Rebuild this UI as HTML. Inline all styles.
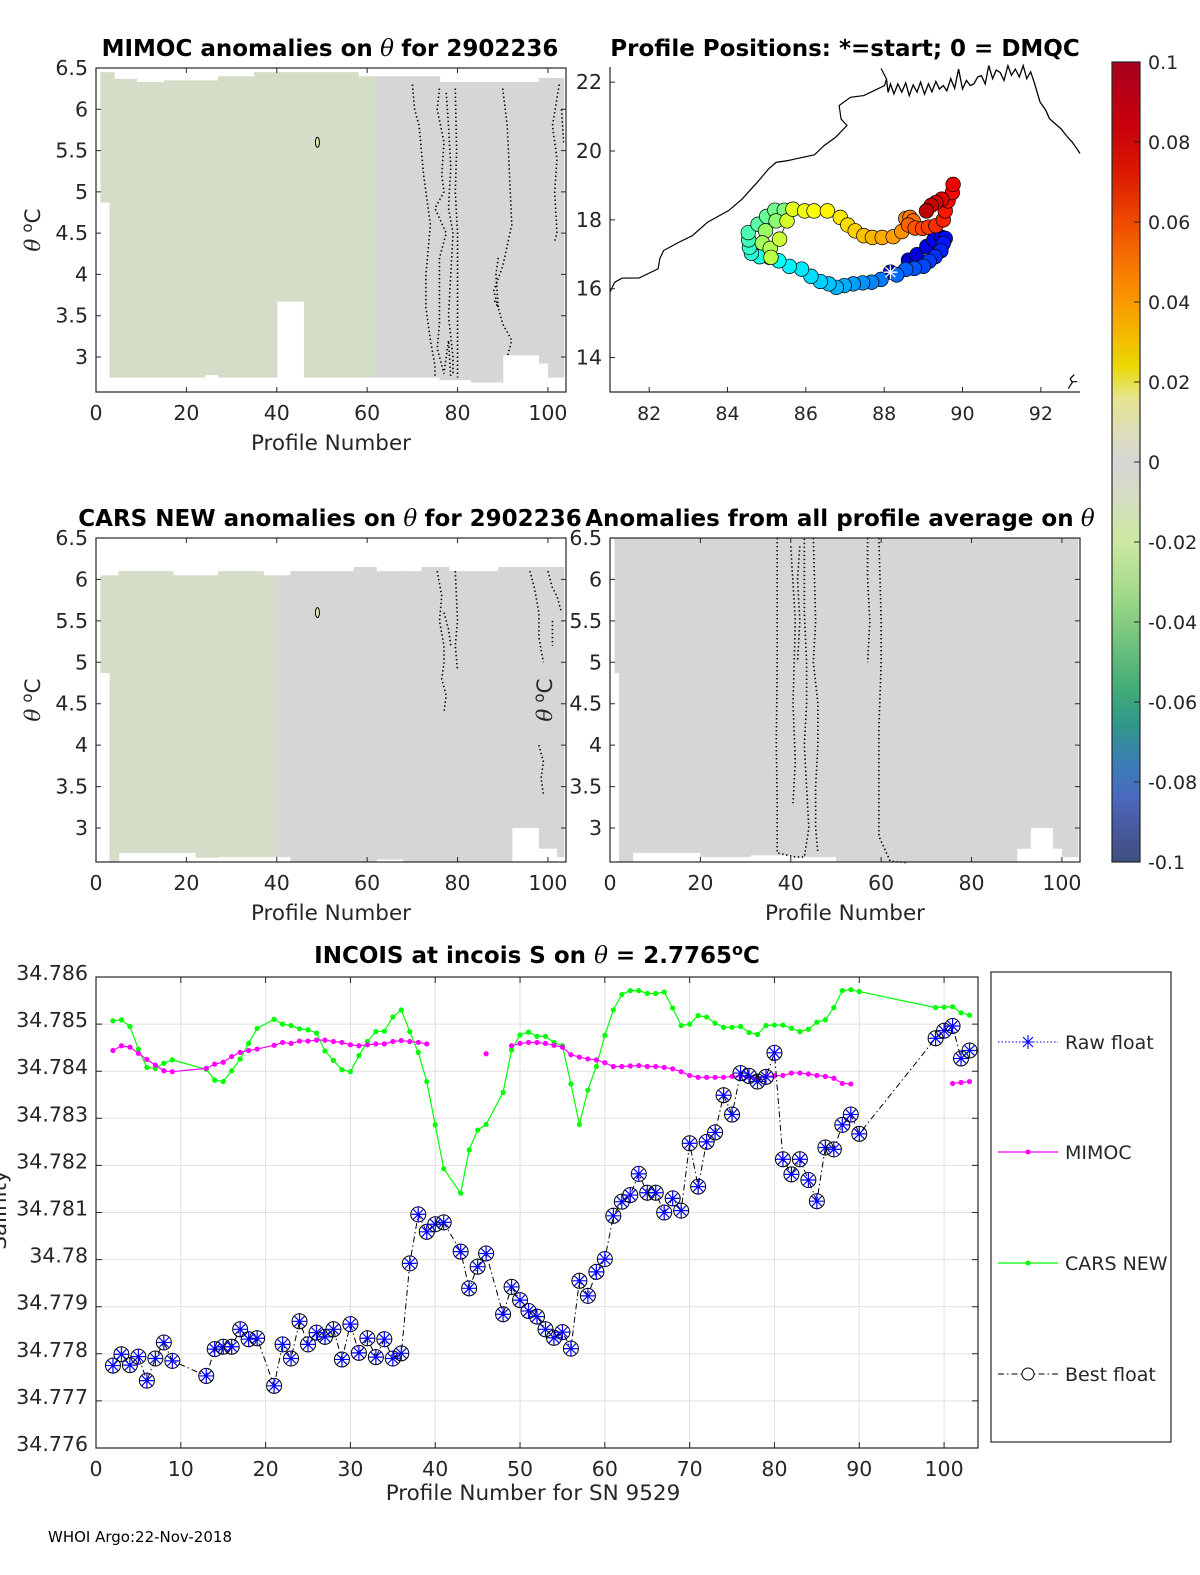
<!DOCTYPE html>
<html><head><meta charset="utf-8"><style>
html,body{margin:0;padding:0;background:#fff;}
svg{display:block;font-family:"DejaVu Sans","Liberation Sans",sans-serif;}
.tk{font-size:19px;fill:#262626;}
.tky{font-size:20.5px;fill:#262626;}
.tt{font-size:23px;font-weight:bold;fill:#000;}
.lb{font-size:21.5px;fill:#262626;}
</style></head><body>
<svg id="fig" xmlns="http://www.w3.org/2000/svg" width="1200" height="1575" viewBox="0 0 1200 1575">
<defs>
<linearGradient id="cbar" x1="0" y1="0" x2="0" y2="1">
<stop offset="0" stop-color="#a8001e"/><stop offset="0.08" stop-color="#c8000c"/><stop offset="0.14" stop-color="#dc1a00"/><stop offset="0.2" stop-color="#ee4a00"/><stop offset="0.28" stop-color="#fb8a00"/><stop offset="0.34" stop-color="#f4b800"/><stop offset="0.38" stop-color="#ead800"/><stop offset="0.42" stop-color="#e6e490"/><stop offset="0.46" stop-color="#dedeb8"/><stop offset="0.5" stop-color="#d6d6d6"/><stop offset="0.54" stop-color="#d4dcc4"/><stop offset="0.6" stop-color="#cce8a0"/><stop offset="0.66" stop-color="#a6dc8c"/><stop offset="0.72" stop-color="#74c47c"/><stop offset="0.78" stop-color="#44ae78"/><stop offset="0.83" stop-color="#30968a"/><stop offset="0.88" stop-color="#3c7cb8"/><stop offset="0.92" stop-color="#4a68be"/><stop offset="0.96" stop-color="#48589e"/><stop offset="1" stop-color="#3e5080"/>
</linearGradient>
</defs>
<g id="g-tl"></g>
<g id="g-map"></g>
<g id="g-ml"></g>
<g id="g-mr"></g>
<g id="g-cb">
<rect x="1112" y="62" width="28" height="800" fill="url(#cbar)" stroke="#262626" stroke-width="1.2"/>
</g>
<g id="g-bt"></g>
<text x="48" y="1542" font-size="15" fill="#000">WHOI Argo:22-Nov-2018</text>
</svg>
<script>
// ===== Bottom chart data =====
const profiles = [2,3,4,5,6,7,8,9,13,14,15,16,17,18,19,21,22,23,24,25,26,27,28,29,30,31,32,33,34,35,36,37,38,39,40,41,43,44,45,46,48,49,50,51,52,53,54,55,56,57,58,59,60,61,62,63,64,65,66,67,68,69,70,71,72,73,74,75,76,77,78,79,80,81,82,83,84,85,86,87,88,89,90,99,100,101,102,103];
const floatS = [34.77775,34.77799,34.77776,34.77794,34.77743,34.77790,34.77824,34.77785,
34.77753,34.77810,34.77815,34.77815,34.77852,34.77831,34.77833,
34.77732,34.77820,34.77790,34.77869,34.77820,34.77845,34.77836,34.77852,34.77788,34.77863,34.77802,34.77833,34.77793,34.77831,34.77790,34.77801,34.77992,34.78096,34.78059,34.78075,34.78079,
34.78017,34.77939,34.77985,34.78013,
34.77884,34.77942,34.77914,34.77891,34.77879,34.77852,34.77834,34.77846,34.77811,34.77955,34.77923,34.77974,34.78001,34.78093,34.78123,34.78137,34.78182,34.78142,34.78142,34.78100,34.78130,34.78104,34.78247,34.78155,34.78250,34.78270,34.78349,34.78308,34.78396,34.78390,34.78378,34.78388,34.78439,34.78213,34.78181,34.78213,34.78169,34.78124,34.78238,34.78234,34.78286,34.78308,34.78267,
34.78470,34.78486,34.78496,34.78427,34.78444];
const carsS = [34.78507,34.78509,34.78495,34.78447,34.78408,34.78406,34.78417,34.78424,
34.78404,34.78381,34.78378,34.78401,34.78426,34.78459,34.78491,
34.78510,34.78500,34.78497,34.78490,34.78488,34.78481,34.78443,34.78423,34.78403,34.78399,34.78433,34.78463,34.78484,34.78485,34.78515,34.78530,34.78484,34.78440,34.78378,34.78286,34.78193,
34.78141,34.78233,34.78275,34.78287,
34.78355,34.78445,34.78477,34.78483,34.78474,34.78474,34.78461,34.78454,34.78373,34.78287,34.78360,34.78410,34.78476,34.78530,34.78563,34.78571,34.78571,34.78565,34.78565,34.78568,34.78534,34.78497,34.78500,34.78518,34.78515,34.78502,34.78493,34.78493,34.78495,34.78482,34.78478,34.78497,34.78498,34.78498,34.78491,34.78484,34.78489,34.78504,34.78509,34.78535,34.78571,34.78573,34.78569,
34.78535,34.78536,34.78537,34.78524,34.78519];
const mimocS = [34.78444,34.78454,34.78451,34.78438,34.78425,34.78413,34.78401,34.78399,
34.78406,34.78415,34.78419,34.78431,34.78440,34.78444,34.78447,
34.78455,34.78461,34.78459,34.78464,34.78464,34.78466,34.78466,34.78463,34.78461,34.78456,34.78454,34.78456,34.78458,34.78458,34.78463,34.78465,34.78463,34.78461,34.78458,null,null,
null,null,null,34.78437,
null,34.78454,34.78459,34.78461,34.78461,34.78459,34.78455,34.78451,34.78435,34.78430,34.78426,34.78424,34.78418,34.78410,34.78410,34.78411,34.78412,34.78410,34.78410,34.78408,34.78405,34.78399,34.78391,34.78387,34.78387,34.78387,34.78387,34.78389,34.78390,34.78387,34.78385,34.78389,34.78390,34.78391,34.78396,34.78396,34.78394,34.78391,34.78389,34.78385,34.78374,34.78373,null,
null,null,34.78374,34.78376,34.78378];
const xTicksB = [0,10,20,30,40,50,60,70,80,90,100];
const yTicksB = ["34.776","34.777","34.778","34.779","34.78","34.781","34.782","34.783","34.784","34.785","34.786"];
const legendLabels = ["Raw float","MIMOC","CARS NEW","Best float"];

// ===== Map data =====
const trackLon = [88.16,88.62,88.84,89.09,89.27,89.47,89.56,89.51,89.45,89.30,89.15,89.00,88.77,88.55,88.32,87.92,87.68,87.45,87.21,86.98,86.78,86.59,86.37,86.13,85.89,85.58,85.31,85.07,84.82,84.61,84.56,84.54,84.53,84.78,85.00,85.21,85.45,85.24,84.97,84.89,85.09,85.11,85.33,85.52,85.67,85.97,86.21,86.55,86.88,87.07,87.26,87.48,87.70,87.95,88.23,88.45,88.55,88.66,88.74,88.62,88.79,88.98,89.13,89.32,89.51,89.56,89.63,89.74,89.76,89.47,89.32,89.20,89.08];
const trackLat = [16.48,16.83,16.99,17.23,17.42,17.49,17.46,17.32,17.10,16.93,16.80,16.65,16.59,16.56,16.40,16.27,16.19,16.17,16.14,16.09,16.04,16.14,16.21,16.36,16.57,16.65,16.81,16.91,16.93,17.03,17.20,17.42,17.63,17.87,18.10,18.28,18.28,17.97,17.68,17.33,17.17,16.91,17.44,17.97,18.31,18.26,18.26,18.26,18.07,17.85,17.68,17.54,17.49,17.49,17.51,17.66,18.04,18.07,17.97,17.85,17.76,17.75,17.79,17.83,18.00,18.26,18.55,18.79,19.03,18.60,18.50,18.42,18.26];
const coastLon = [81.0,81.12,81.31,81.74,82.23,82.27,82.37,82.76,83.10,83.49,84.03,84.37,84.76,85.05,85.24,85.54,85.73,86.22,86.47,86.76,87.05,86.90,86.85,87.14,87.48,88.01,88.06,87.92];
const coastLat = [15.90,16.19,16.31,16.31,16.58,16.87,17.11,17.35,17.54,17.93,18.27,18.60,19.09,19.48,19.67,19.72,19.77,19.89,20.16,20.40,20.74,20.93,21.32,21.56,21.61,21.90,22.09,22.40];
const deltaLon = [88.06,88.10,88.16,88.25,88.35,88.45,88.55,88.64,88.74,88.84,88.93,89.03,89.13,89.22,89.32,89.41,89.51,89.60,89.70,89.80,89.90,90.00,90.10,90.20,90.29,90.39,90.48,90.58,90.67,90.77,90.86,90.96,91.06,91.16,91.25,91.35,91.45,91.55,91.64,91.74,91.83,91.98,92.12,92.22,92.36,92.51,92.65,92.80,92.9,93.0];
const deltaLat = [22.09,21.70,21.95,21.66,21.95,21.71,21.98,21.61,21.92,21.71,22.00,21.65,21.95,21.72,22.02,21.80,21.90,21.75,22.10,21.82,22.38,21.80,22.05,21.90,21.95,22.15,22.19,21.95,22.48,22.10,22.35,22.28,22.05,22.48,22.20,22.38,22.15,22.48,22.10,22.30,22.00,21.42,21.20,20.94,20.80,20.65,20.45,20.26,20.10,19.93];
const mapXTicks = [82,84,86,88,90,92];
const mapYTicks = [14,16,18,20,22];
const cbTicks = ["0.1","0.08","0.06","0.04","0.02","0","-0.02","-0.04","-0.06","-0.08","-0.1"];

const NS = "http://www.w3.org/2000/svg";
function mk(parent, tag, attrs, text){
  const el = document.createElementNS(NS, tag);
  for (const k in attrs) el.setAttribute(k, attrs[k]);
  if (text !== undefined) el.textContent = text;
  parent.appendChild(el);
  return el;
}

// ===== colorbar ticks =====
const gcb = document.getElementById('g-cb');
cbTicks.forEach((t,i)=>{
  const y = 62 + i*80;
  const tl = mk(gcb,'line',{x1:1134,x2:1140,y1:y,y2:y,stroke:'#262626','stroke-width':1});
  
  
  const tx = mk(gcb,'text',{x:1148,y:y+7,class:'tk'},t);
  
  
});

// ===== heatmap panels =====
const G = '#d4ddc8', GR = '#d6d6d6';
function panel(gid, L, R, T, B, lo, blocks, contours, ylabelX, title, titleX, ellipse){
  const g = document.getElementById(gid);
  const sx = p => L + p/104*(R-L);
  const sy = t => T + (6.5-t)/(6.5-lo)*(B-T);
  blocks.forEach(b=>{
    const r = mk(g,'rect',{x:sx(b[0]),y:sy(b[2]),width:sx(b[1])-sx(b[0])+0.6,height:sy(b[3])-sy(b[2]),fill:b[4]});
    
    
  });
  contours.forEach(c=>{
    const pth = mk(g,'polyline',{points:c.map(q=>sx(q[0])+','+sy(q[1])).join(' '),fill:'none',stroke:'#000','stroke-width':1.6,'stroke-dasharray':'1.4 2.6'});
    
    
  });
  if (ellipse){
    const e = mk(g,'ellipse',{cx:sx(49),cy:sy(5.6),rx:2,ry:5,fill:'#dfeab0',stroke:'#000','stroke-width':1});
    
    
  }
  const box = mk(g,'rect',{x:L,y:T,width:R-L,height:B-T,fill:'none',stroke:'#262626','stroke-width':1.2});
  
  
  [0,20,40,60,80,100].forEach(p=>{
    const tk = mk(g,'path',{d:`M${sx(p)},${B}v-5M${sx(p)},${T}v5`,stroke:'#262626','stroke-width':1});
    
    
    const tl = mk(g,'text',{x:sx(p),y:B+28,class:'tky','text-anchor':'middle'},String(p));
    
    
  });
  [3,3.5,4,4.5,5,5.5,6,6.5].forEach(t=>{
    const tk = mk(g,'path',{d:`M${L},${sy(t)}h5M${R},${sy(t)}h-5`,stroke:'#262626','stroke-width':1});
    
    
    const tl = mk(g,'text',{x:L-8,y:sy(t)+7,class:'tky','text-anchor':'end'},String(t));
    
    
  });
  const xl = mk(g,'text',{x:(L+R)/2,y:B+58,class:'lb','text-anchor':'middle'},'Profile Number');
  
  
  const yl = mk(g,'text',{x:ylabelX,y:(T+B)/2,class:'lb','text-anchor':'middle',transform:`rotate(-90 ${ylabelX} ${(T+B)/2})`});
  
  
  mk(yl,'tspan',{'font-family':'"DejaVu Serif","Liberation Serif",serif','font-style':'italic'},'θ');
  mk(yl,'tspan',{dx:6,dy:-8,'font-size':15},'o');
  mk(yl,'tspan',{dy:8},'C');
  const tt = mk(g,'text',{x:titleX,y:T-12,class:'tt','text-anchor':'middle'});
  
  
  title.forEach(part=>{
    if (part==='θ') mk(tt,'tspan',{'font-family':'"DejaVu Serif","Liberation Serif",serif','font-style':'italic','font-weight':'normal'},' θ ');
    else mk(tt,'tspan',{},part);
  });
}

panel('g-tl',96,566,68,392,2.576,[
 [1,3,6.45,4.87,G],[3,4,6.45,2.75,G],[4,9,6.37,2.75,G],[9,15,6.33,2.75,G],[15,24,6.35,2.75,G],[24,27,6.35,2.78,G],[27,35,6.40,2.75,G],[35,40,6.45,2.75,G],[40,46,6.45,3.67,G],[46,58,6.45,2.75,G],[58,62,6.40,2.75,G],[62,76,6.40,2.75,GR],[76,83,6.33,2.72,GR],[83,90,6.33,2.69,GR],[90,98,6.33,3.02,GR],[98,100,6.38,2.92,GR],[100,103.5,6.38,2.75,GR]
],[
 [[70,6.3],[70.5,6.0],[71.5,5.8],[72,5.5],[72.5,5.2],[73.5,4.8],[74,4.6],[73.5,4.3],[73,4.0],[73,3.6],[73.5,3.4],[74,3.2],[75,2.9],[75,2.75]],
 [[79.5,6.25],[79.8,5.5],[79.5,5],[80,4.5],[80,4],[80,3.4],[80,2.75]],
 [[76,6.25],[75.5,6.0],[77,5.6],[76.5,5.2],[77,5],[75,4.8],[77.5,4.5],[76,4.2],[76,4],[76,3.4],[75.5,3.1],[77,2.8],[78,3.2],[78.5,2.75]],
 [[77.5,6.2],[78,5.8],[78.5,5.3],[78,4.8],[79,4.5],[78.5,4.0],[78,3.5],[79,3.0],[79,2.8]],
 [[90,6.25],[91,5.8],[91.5,5.2],[92,4.6],[90,4.1],[88,3.8],[90,3.4],[92,3.2],[91,3.0]],
 [[89,4.2],[88.5,4.0],[89,3.6],[88,3.7]],
 [[102.5,6.3],[101,5.8],[102,5.4],[101.5,5],[102,4.5],[101.5,4.4]],
 [[103,6.0],[103.5,5.6]]
],40,['MIMOC anomalies on','θ',' for 2902236'],330,true);

panel('g-ml',96,566,538,862,2.59,[
 [1,3,6.05,4.87,G],[3,5,6.05,2.59,G],[5,17,6.1,2.7,G],[17,22,6.05,2.7,G],[22,27,6.05,2.64,G],[27,37,6.1,2.65,G],[37,40,6.05,2.65,G],[40,43,6.05,2.65,GR],[43,57,6.1,2.59,GR],[57,62,6.15,2.59,GR],[62,68,6.1,2.62,GR],[68,72,6.1,2.59,GR],[72,78,6.15,2.59,GR],[78,89,6.1,2.59,GR],[89,92,6.15,2.59,GR],[92,98,6.15,3.0,GR],[98,102,6.15,2.75,GR],[102,103.5,6.15,2.65,GR]
],[
 [[75.5,6.1],[76.5,5.8],[76,5.5],[77,5.2],[77,5],[76.5,4.8],[77.5,4.6],[77,4.4]],
 [[77,5.6],[78,5.4],[78.5,5.2]],
 [[79.5,6.1],[80,5.5],[79.5,5.2],[80,4.9]],
 [[96,6.1],[97,5.9],[98,5.6],[98,5.3],[99,5.0]],
 [[98,4.0],[99,3.8],[98.5,3.6],[99,3.4]],
 [[100,6.1],[101,5.9],[102,5.8],[103,5.6]],
 [[101,5.5],[101,5.2]]
],40,['CARS NEW anomalies on','θ','for 2902236'],330,true);

panel('g-mr',610,1080,538,862,2.59,[
 [1,2,6.5,4.87,GR],[2,5,6.5,2.59,GR],[5,20,6.5,2.7,GR],[20,31,6.5,2.65,GR],[31,40,6.5,2.67,GR],[40,50,6.5,2.65,GR],[50,90,6.5,2.59,GR],[90,93,6.5,2.75,GR],[93,98,6.5,3.0,GR],[98,100,6.5,2.75,GR],[100,103.5,6.5,2.65,GR]
],[
 [[37,6.5],[37,5],[36.8,4],[37,3.3],[37,2.7],[41,2.65],[43,2.65],[44,3],[43.5,3.5],[43,4],[43.5,4.5],[43.5,5],[43,5.6],[43,6.5]],
 [[45,6.5],[45.5,5.5],[45,5],[46,4.5],[46,4],[45.5,3.5],[45.5,3],[46,2.7]],
 [[40,6.4],[41,5.5],[40.5,4.5],[41,3.8],[40.5,3.3]],
 [[42,6.4],[41.5,6.0],[42,5.5],[41.5,5.0]],
 [[57,6.5],[57,6.0],[57.5,5.5],[57,5.0]],
 [[59.5,6.5],[60,5.5],[60,5],[59.5,4.2],[59.5,3.5],[59.5,2.9],[62,2.6],[66,2.58]]
],552,['Anomalies from all profile average on','θ'],840,false);

// ===== Map =====
(function(){
  const g = document.getElementById('g-map');
  const L=610,R=1080,T=67,B=392;
  const sx = lon => L + (lon-81)/(93-81)*(R-L);
  const sy = lat => T + (22.44-lat)/(22.44-13.0)*(B-T);
  const coast = mk(g,'polyline',{points:coastLon.map((v,i)=>sx(v)+','+sy(coastLat[i])).join(' '),fill:'none',stroke:'#000','stroke-width':1.2});
  
  
  const delta = mk(g,'polyline',{points:deltaLon.map((v,i)=>sx(v)+','+sy(deltaLat[i])).join(' '),fill:'none',stroke:'#000','stroke-width':1.3});
  
  
  const isl = mk(g,'path',{d:`M${sx(92.7)},${sy(13.1)}l4,-6l-2,-4l4,-4M${sx(92.8)},${sy(13.3)}l5,0`,fill:'none',stroke:'#000','stroke-width':1.2});
  
  
  const tr = mk(g,'polyline',{points:trackLon.map((v,i)=>sx(v)+','+sy(trackLat[i])).join(' '),fill:'none',stroke:'#000','stroke-width':0.8});
  
  
  function jet(f){
    const r=Math.max(0,Math.min(1,1.5-Math.abs(4*f-3)));
    const gg=Math.max(0,Math.min(1,1.5-Math.abs(4*f-2)));
    const b=Math.max(0,Math.min(1,1.5-Math.abs(4*f-1)));
    return `rgb(${Math.round(r*255)},${Math.round(gg*255)},${Math.round(b*255)})`;
  }
  const n = trackLon.length;
  trackLon.forEach((v,i)=>{
    const c = mk(g,'circle',{cx:sx(v),cy:sy(trackLat[i]),r:7.3,fill:jet(0.06+0.88*i/(n-1)),stroke:'#000','stroke-width':0.7});
    
    
  });
  const st = mk(g,'path',{d:`M${sx(trackLon[0])-7},${sy(trackLat[0])}h14M${sx(trackLon[0])},${sy(trackLat[0])-7}v14M${sx(trackLon[0])-5},${sy(trackLat[0])-5}l10,10M${sx(trackLon[0])+5},${sy(trackLat[0])-5}l-10,10`,stroke:'#fff','stroke-width':1.3});
  
  
  const ax = mk(g,'path',{d:`M${L},${T}V${B}H${R}`,fill:'none',stroke:'#262626','stroke-width':1.2});
  
  
  mapXTicks.forEach(t=>{
    const tk = mk(g,'line',{x1:sx(t),x2:sx(t),y1:B,y2:B-5,stroke:'#262626'});
    
    
    const tl = mk(g,'text',{x:sx(t),y:B+28,class:'tk','text-anchor':'middle'},String(t));
    
    
  });
  mapYTicks.forEach(t=>{
    const tk = mk(g,'line',{x1:L,x2:L+5,y1:sy(t),y2:sy(t),stroke:'#262626'});
    
    
    const tl = mk(g,'text',{x:L-8,y:sy(t)+7,class:'tky','text-anchor':'end'},String(t));
    
    
  });
  const tt = mk(g,'text',{x:845,y:56,class:'tt','text-anchor':'middle'},'Profile Positions: *=start; 0 = DMQC');
  
  
})();

// ===== Bottom chart =====
(function(){
  const g = document.getElementById('g-bt');
  const L=96,R=978,T=977,B=1448;
  const sx = p => L + p/104*(R-L);
  const sy = v => T + (34.786 - v)/0.010*(B-T);
  xTicksB.forEach(p=>{
    const gl = mk(g,'line',{x1:sx(p),x2:sx(p),y1:T,y2:B,stroke:'#e0e0e0','stroke-width':1});
    
    
  });
  yTicksB.forEach(t=>{
    const v=parseFloat(t);
    const gl = mk(g,'line',{x1:L,x2:R,y1:sy(v),y2:sy(v),stroke:'#e0e0e0','stroke-width':1});
    
    
  });
  const cars = mk(g,'polyline',{points:profiles.map((p,i)=>sx(p)+','+sy(carsS[i])).join(' '),fill:'none',stroke:'#00ff00','stroke-width':1.2});
  
  
  profiles.forEach((p,i)=>{
    const d = mk(g,'circle',{cx:sx(p),cy:sy(carsS[i]),r:2.6,fill:'#00ff00'});
    
    
  });
  let seg=[];
  const segs=[];
  profiles.forEach((p,i)=>{
    if (mimocS[i]===null){ if(seg.length) segs.push(seg); seg=[]; }
    else seg.push(sx(p)+','+sy(mimocS[i]));
  });
  if (seg.length) segs.push(seg);
  segs.forEach(s=>{
    const m = mk(g,'polyline',{points:s.join(' '),fill:'none',stroke:'#ff00ff','stroke-width':1.2});
    
    
  });
  profiles.forEach((p,i)=>{
    if (mimocS[i]===null) return;
    const d = mk(g,'circle',{cx:sx(p),cy:sy(mimocS[i]),r:2.6,fill:'#ff00ff'});
    
    
  });
  const fl = mk(g,'polyline',{points:profiles.map((p,i)=>sx(p)+','+sy(floatS[i])).join(' '),fill:'none',stroke:'#000','stroke-width':1,'stroke-dasharray':'6 3 1.5 3'});
  
  
  profiles.forEach((p,i)=>{
    const cx=sx(p), cy=sy(floatS[i]);
    const c = mk(g,'circle',{cx:cx,cy:cy,r:7.5,fill:'none',stroke:'#000','stroke-width':1});
    
    
    const a = mk(g,'path',{d:`M${cx-7},${cy}h14M${cx},${cy-8}v16M${cx-5},${cy-5}l10,10M${cx+5},${cy-5}l-10,10`,stroke:'#0000ff','stroke-width':1.2});
    
    
  });
  const box = mk(g,'rect',{x:L,y:T,width:R-L,height:B-T,fill:'none',stroke:'#262626','stroke-width':1.2});
  
  
  xTicksB.forEach(p=>{
    const tk = mk(g,'path',{d:`M${sx(p)},${B}v-6M${sx(p)},${T}v6`,stroke:'#262626'});
    
    
    const tl = mk(g,'text',{x:sx(p),y:B+28,class:'tky','text-anchor':'middle'},String(p));
    
    
  });
  yTicksB.forEach(t=>{
    const v=parseFloat(t);
    const tk = mk(g,'path',{d:`M${L},${sy(v)}h6M${R},${sy(v)}h-6`,stroke:'#262626'});
    
    
    const tl = mk(g,'text',{x:L-8,y:sy(v)+3,class:'tky','text-anchor':'end'},t);
    
    
  });
  const xl = mk(g,'text',{x:(L+R)/2-4,y:B+52,class:'lb','text-anchor':'middle'},'Profile Number for SN 9529');
  
  
  const yl = mk(g,'text',{x:6,y:1210,class:'lb','text-anchor':'middle',transform:'rotate(-90 6 1210)'},'Salinity');
  
  
  const tt = mk(g,'text',{x:537,y:963,class:'tt','text-anchor':'middle'});
  
  
  mk(tt,'tspan',{},'INCOIS at incois S on ');
  mk(tt,'tspan',{'font-family':'"DejaVu Serif","Liberation Serif",serif','font-style':'italic','font-weight':'normal'},'θ');
  mk(tt,'tspan',{},' = 2.7765');
  mk(tt,'tspan',{dy:-8,'font-size':16},'o');
  mk(tt,'tspan',{dy:8},'C');
  const lg = mk(g,'rect',{x:991,y:972,width:180,height:470,fill:'#fff',stroke:'#262626','stroke-width':1.2});
  
  
  const ly=[1042,1152,1263,1374];
  legendLabels.forEach((lab,i)=>{
    const y=ly[i];
    let ln;
    if (i===0){
      ln = mk(g,'path',{d:`M998,${y}h60`,stroke:'#0000ff','stroke-width':1,fill:'none','stroke-dasharray':'1.5 2'});
      mk(g,'path',{d:`M1022,${y}h12M1028,${y-7}v14M1023,${y-5}l10,10M1033,${y-5}l-10,10`,stroke:'#0000ff','stroke-width':1.1});
    } else if (i===1){
      ln = mk(g,'path',{d:`M998,${y}h60`,stroke:'#ff00ff','stroke-width':1.2});
      mk(g,'circle',{cx:1028,cy:y,r:2.5,fill:'#ff00ff'});
    } else if (i===2){
      ln = mk(g,'path',{d:`M998,${y}h60`,stroke:'#00ff00','stroke-width':1.2});
      mk(g,'circle',{cx:1028,cy:y,r:2.5,fill:'#00ff00'});
    } else {
      ln = mk(g,'path',{d:`M998,${y}h60`,stroke:'#000','stroke-width':1,'stroke-dasharray':'6 3 1.5 3'});
      mk(g,'circle',{cx:1028,cy:y,r:6,fill:'#fff',stroke:'#000'});
    }
    
    
    const tx = mk(g,'text',{x:1065,y:y+7,class:'tk'},lab);
    
    
  });
})();
</script>
</body></html>
